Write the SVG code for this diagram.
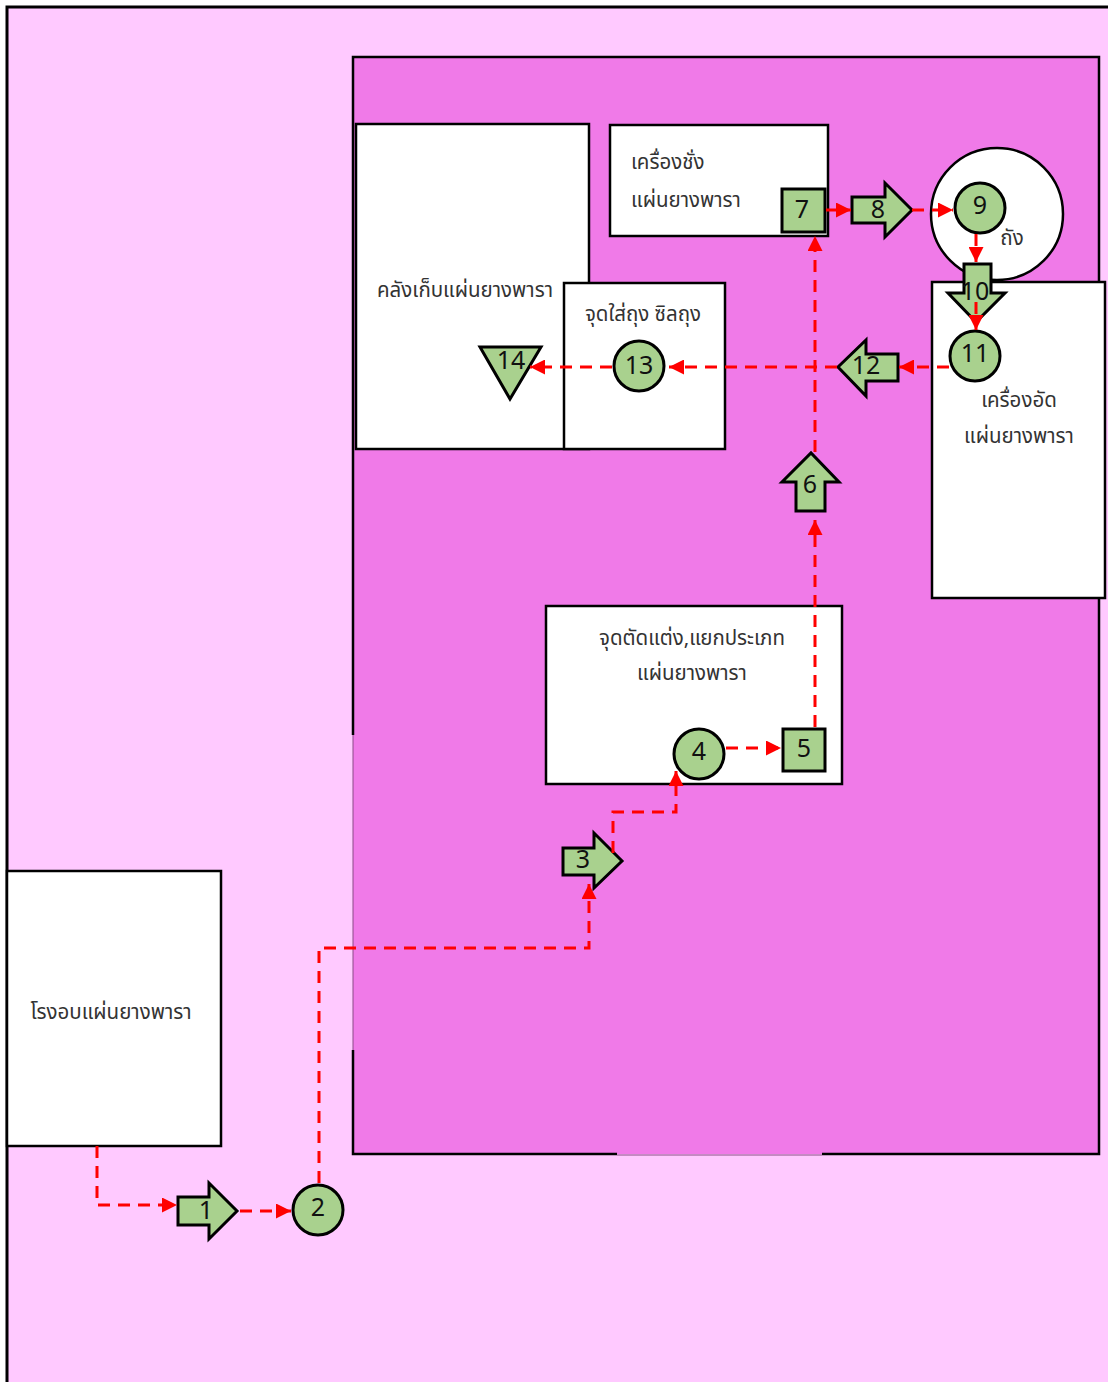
<svg xmlns="http://www.w3.org/2000/svg" width="1108" height="1382" viewBox="0 0 1108 1382">
<defs>
<style>
.box{fill:#fff;stroke:#000;stroke-width:2.5}
.n{fill:#A9D18E;stroke:#000;stroke-width:3}
.lbl{font-family:"Noto Sans Thai","Tahoma","Loma","Garuda","Noto Sans","DejaVu Sans",sans-serif;font-size:20.5px;fill:#333}
.num{font-family:"Noto Sans Thai","Tahoma","Loma","Noto Sans","DejaVu Sans",sans-serif;font-size:25px;fill:#111;text-anchor:middle;dominant-baseline:central}
.c{fill:none;stroke:#FF0000;stroke-width:3;stroke-dasharray:12 8}
</style>
<marker id="ah" viewBox="0 0 10 10" refX="10" refY="5" markerWidth="5.2" markerHeight="5" markerUnits="strokeWidth" orient="auto">
<path d="M0,0 L10,5 L0,10 Z" fill="#FF0000"/>
</marker>
</defs>
<rect x="7" y="7" width="1110" height="1390" fill="#FFC9FF" stroke="#000" stroke-width="3"/>
<g id="area">
<rect x="353" y="57" width="746" height="1097" fill="#F07AE8"/>
<path d="M353,735 V57 H1099 V1154 H822 M617,1154 H353 V1050" fill="none" stroke="#000" stroke-width="2.5"/>
<path d="M353,735 V1050 M617,1155 H822" fill="none" stroke="#8a4a86" stroke-width="1"/>
</g>
<g id="storage"><rect class="box" x="356" y="124" width="233" height="325"/><text class="lbl" x="465" y="297" text-anchor="middle">คลังเก็บแผ่นยางพารา</text></g>
<g id="bagging"><rect class="box" x="564" y="283" width="161" height="166"/><text class="lbl" x="643" y="321" text-anchor="middle">จุดใส่ถุง ซิลถุง</text></g>
<g id="scale"><rect class="box" x="610" y="125" width="218" height="111"/><text class="lbl" x="631" y="169">เครื่องชั่ง</text><text class="lbl" x="631" y="207">แผ่นยางพารา</text></g>
<g id="tank"><circle cx="997" cy="214" r="66" fill="#fff" stroke="#000" stroke-width="2.5"/><text class="lbl" x="1012" y="245" text-anchor="middle">ถัง</text></g>
<g id="press"><rect class="box" x="932" y="282" width="173" height="316"/><text class="lbl" x="1019" y="407" text-anchor="middle">เครื่องอัด</text><text class="lbl" x="1019" y="443" text-anchor="middle">แผ่นยางพารา</text></g>
<g id="trim"><rect class="box" x="546" y="606" width="296" height="178"/><text class="lbl" x="692" y="645" text-anchor="middle">จุดตัดแต่ง,แยกประเภท</text><text class="lbl" x="692" y="680" text-anchor="middle">แผ่นยางพารา</text></g>
<g id="oven"><rect class="box" x="7" y="871" width="214" height="275"/><text class="lbl" x="111" y="1019" text-anchor="middle">โรงอบแผ่นยางพารา</text></g>
<g id="n1"><path class="n" d="M178,1197 H209 V1183 L237,1211 L209,1239 V1225 H178 Z"/><text class="num" x="206" y="1211">1</text></g>
<g id="n2"><circle class="n" cx="318" cy="1210" r="25"/><text class="num" x="318" y="1208">2</text></g>
<g id="n3"><path class="n" d="M563,848 H594 V833 L622,861 L594,888 V875 H563 Z"/><text class="num" x="583" y="860">3</text></g>
<g id="n4"><circle class="n" cx="699" cy="754" r="25"/><text class="num" x="699" y="752">4</text></g>
<g id="n5"><rect class="n" x="783" y="729" width="42" height="42"/><text class="num" x="804" y="749">5</text></g>
<g id="n6"><path class="n" d="M796,511 V482 H782 L811,453 L839,482 H825 V511 Z"/><text class="num" x="810" y="485">6</text></g>
<g id="n7"><rect class="n" x="782" y="189" width="43" height="43"/><text class="num" x="802" y="210">7</text></g>
<g id="n8"><path class="n" d="M852,197 H885 V183 L912,210 L885,237 V223 H852 Z"/><text class="num" x="878" y="210">8</text></g>
<g id="n9"><circle class="n" cx="980" cy="208" r="25"/><text class="num" x="980" y="206">9</text></g>
<g id="n10"><path class="n" d="M964,264 H991 V293 H1005 L976,322 L948,293 H964 Z"/><text class="num" x="975" y="292">10</text></g>
<g id="n11"><circle class="n" cx="975" cy="356" r="25"/><text class="num" x="975" y="354">11</text></g>
<g id="n12"><path class="n" d="M898,354 V381 H866 V396 L838,367 L866,340 V354 Z"/><text class="num" x="866" y="366">12</text></g>
<g id="n13"><circle class="n" cx="639" cy="366" r="25"/><text class="num" x="639" y="366">13</text></g>
<g id="n14"><path class="n" d="M480,347 H541 L510,399 Z"/><text class="num" x="511" y="361">14</text></g>
<g id="connectors">
<path class="c" d="M97,1146 V1205 H177" marker-end="url(#ah)"/>
<path class="c" d="M240,1211 H291" marker-end="url(#ah)"/>
<path class="c" d="M319,1183 V948 H589 V884" marker-end="url(#ah)"/>
<path class="c" d="M613,853 V812 H676 V771" marker-end="url(#ah)"/>
<path class="c" d="M726,748 H781" marker-end="url(#ah)"/>
<path class="c" d="M815,727 V520" marker-end="url(#ah)"/>
<path class="c" d="M815,452 V236" marker-end="url(#ah)"/>
<path class="c" d="M826,210 H851" marker-end="url(#ah)"/>
<path class="c" d="M912,210 H953" marker-end="url(#ah)"/>
<path class="c" d="M976,234 V262" marker-end="url(#ah)"/>
<path class="c" d="M976,302 V330" marker-end="url(#ah)"/>
<path class="c" d="M949,367 H899" marker-end="url(#ah)"/>
<path class="c" d="M837,367 H669" marker-end="url(#ah)"/>
<path class="c" d="M612,367 H530" marker-end="url(#ah)"/>
</g>
</svg>
